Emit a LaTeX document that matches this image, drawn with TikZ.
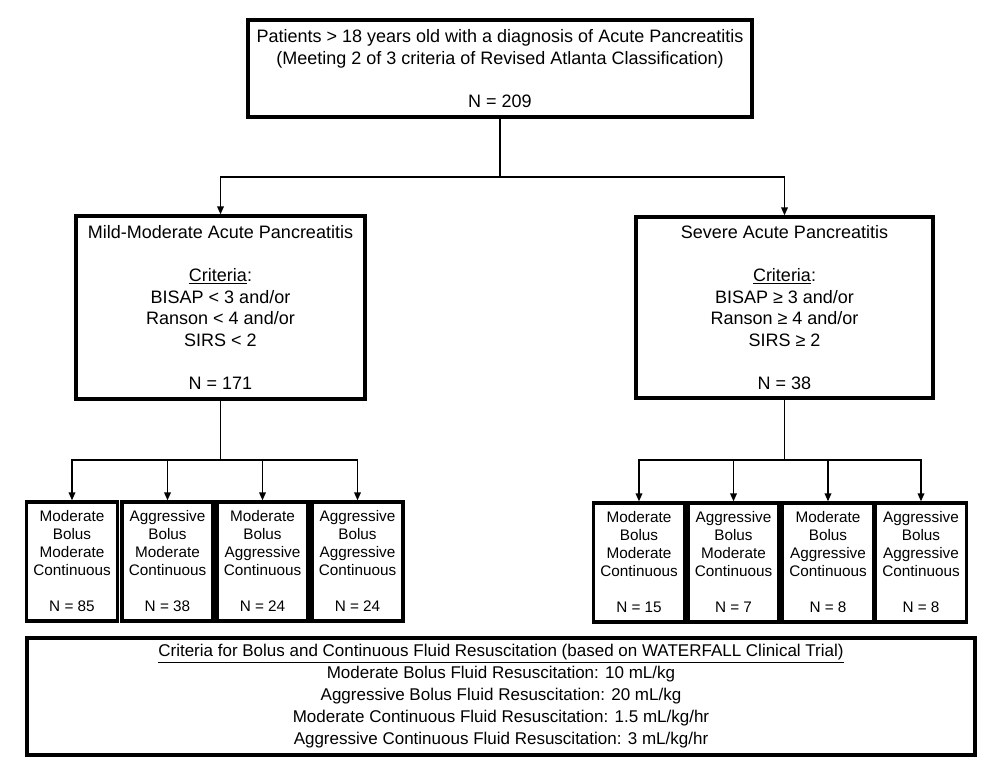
\documentclass[tikz,border=0pt]{standalone}
\usepackage{fontspec}
\setmainfont{Liberation Sans}
\usetikzlibrary{arrows.meta}
\begin{document}
\begin{tikzpicture}[x=1pt,y=-1pt,
  box/.style={draw, line width=3.2pt, align=center, inner sep=0pt, anchor=center,
    execute at begin node=\vphantom{Mdl}},
  bigbox/.style={box, font=\fontsize{18}{21.5}\selectfont},
  smallbox/.style={box, font=\fontsize{15.3}{18}\selectfont, minimum width=91pt, minimum height=119pt},
  notebox/.style={box, font=\fontsize{17}{22}\selectfont},
  conn/.style={line width=1.7pt, -{Triangle[length=8pt,width=6.5pt]}},
  plain/.style={line width=1.7pt}
]
\useasboundingbox (0,0) rectangle (993,774);
\fill[white] (0,0) rectangle (993,774);

\node[bigbox, minimum width=504pt, minimum height=97pt] (top) at (500,68.5)
 {Patients > 18 years old with a diagnosis of Acute Pancreatitis\\
  (Meeting 2 of 3 criteria of Revised Atlanta Classification)\\ \mbox{}\\ N = 209};

\node[bigbox, minimum width=289pt, minimum height=183pt] (mild) at (220.5,307.5)
 {Mild-Moderate Acute Pancreatitis\\ \mbox{}\\ \underline{Criteria}:\\
  BISAP < 3 and/or\\ Ranson < 4 and/or\\ SIRS < 2\\ \mbox{}\\ N = 171};

\node[bigbox, minimum width=297pt, minimum height=181pt] (severe) at (784.5,307.5)
 {Severe Acute Pancreatitis\\ \mbox{}\\ \underline{Criteria}:\\
  BISAP ≥ 3 and/or\\ Ranson ≥ 4 and/or\\ SIRS ≥ 2\\ \mbox{}\\ N = 38};

\node[smallbox] (l1) at (72,561.5) {Moderate\\Bolus\\Moderate\\Continuous\\ \mbox{}\\ N = 85};
\node[smallbox] (l2) at (167.5,561.5) {Aggressive\\Bolus\\Moderate\\Continuous\\ \mbox{}\\ N = 38};
\node[smallbox] (l3) at (262.5,561.5) {Moderate\\Bolus\\Aggressive\\Continuous\\ \mbox{}\\ N = 24};
\node[smallbox] (l4) at (357.5,561.5) {Aggressive\\Bolus\\Aggressive\\Continuous\\ \mbox{}\\ N = 24};

\node[smallbox] (r1) at (639,562.5) {Moderate\\Bolus\\Moderate\\Continuous\\ \mbox{}\\ N = 15};
\node[smallbox] (r2) at (733.5,562.5) {Aggressive\\Bolus\\Moderate\\Continuous\\ \mbox{}\\ N = 7};
\node[smallbox] (r3) at (828,562.5) {Moderate\\Bolus\\Aggressive\\Continuous\\ \mbox{}\\ N = 8};
\node[smallbox] (r4) at (921,562.5) {Aggressive\\Bolus\\Aggressive\\Continuous\\ \mbox{}\\ N = 8};

\node[notebox, minimum width=948pt, minimum height=117pt] (note) at (501,696.5)
 {\underline{Criteria for Bolus and Continuous Fluid Resuscitation (based on WATERFALL Clinical Trial)}\\
  Moderate Bolus Fluid Resuscitation: 10 mL/kg\\
  Aggressive Bolus Fluid Resuscitation: 20 mL/kg\\
  Moderate Continuous Fluid Resuscitation: 1.5 mL/kg/hr\\
  Aggressive Continuous Fluid Resuscitation: 3 mL/kg/hr};

\coordinate (s0) at (500,177);
\coordinate (s1) at (220.5,460);
\coordinate (s2) at (784.5,460);

\draw[plain] (top.south) -- (s0);
\draw[conn] (s0) -| (mild.north);
\draw[conn] (s0) -| (severe.north);

\draw[plain] (mild.south) -- (s1);
\foreach \n in {l1,l2,l3,l4} \draw[conn] (s1) -| (\n.north);
\draw[plain] (severe.south) -- (s2);
\foreach \n in {r1,r2,r3,r4} \draw[conn] (s2) -| (\n.north);
\end{tikzpicture}
\end{document}
